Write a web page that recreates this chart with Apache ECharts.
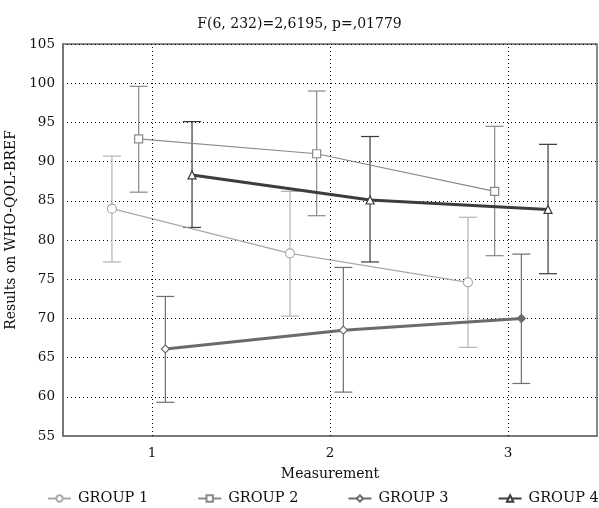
<!DOCTYPE html>
<html>
<head>
<meta charset="utf-8">
<script src="https://cdn.jsdelivr.net/npm/echarts@6/dist/echarts.min.js"></script>
<style>
  html, body { margin: 0; padding: 0; background: #fff; }
  #chart { width: 599px; height: 508px; }
</style>
</head>
<body>
<div id="chart"></div>
<script>
// measurements and the horizontal offset of each group around them
const measurements = [1, 2, 3];
const offsets = [-0.225, -0.075, 0.075, 0.225];
const groupNames = ['GROUP 1', 'GROUP 2', 'GROUP 3', 'GROUP 4'];
const yTicks = [55, 105, 5];

// means and error bar ends
const g1Mean = [84.0, 78.3, 74.6];
const g1Low  = [77.2, 70.3, 66.3];
const g1High = [90.7, 86.2, 82.9];

const g2Mean = [92.9, 91.0, 86.2];
const g2Low  = [86.1, 83.1, 78.0];
const g2High = [99.6, 99.0, 94.5];

const g3Mean = [66.1, 68.5, 70.0];
const g3Low  = [59.3, 60.6, 61.7];
const g3High = [72.8, 76.5, 78.2];

const g4Mean = [88.3, 85.1, 83.9];
const g4Low  = [81.6, 77.2, 75.7];
const g4High = [95.1, 93.2, 92.2];

const FONT = 'DejaVu Serif';

const groups = [
  { mean: g1Mean, low: g1Low, high: g1High, color: '#a9a9a9', bar: '#b3b3b3', width: 1.2, symbol: 'circle', size: 9 },
  { mean: g2Mean, low: g2Low, high: g2High, color: '#8a8a8a', bar: '#8a8a8a', width: 1.2, symbol: 'rect', size: 8 },
  { mean: g3Mean, low: g3Low, high: g3High, color: '#6b6b6b', bar: '#707070', width: 3, symbol: 'diamond', size: 8 },
  { mean: g4Mean, low: g4Low, high: g4High, color: '#3d3d3d', bar: '#3a3a3a', width: 3, symbol: 'triangle', size: 8 }
];

function errorBarItem(color) {
  return function (params, api) {
    const x = api.value(0);
    const lo = api.coord([x, api.value(1)]);
    const hi = api.coord([x, api.value(2)]);
    const half = 9;
    const style = { stroke: color, lineWidth: 1.2 };
    return {
      type: 'group',
      children: [
        { type: 'line', shape: { x1: hi[0], y1: hi[1], x2: lo[0], y2: lo[1] }, style: style },
        { type: 'line', shape: { x1: hi[0] - half, y1: hi[1], x2: hi[0] + half, y2: hi[1] }, style: style },
        { type: 'line', shape: { x1: lo[0] - half, y1: lo[1], x2: lo[0] + half, y2: lo[1] }, style: style }
      ]
    };
  };
}

const series = [];

groups.forEach(function (g, i) {
  series.push({
    type: 'custom',
    name: 'err' + i,
    z: 2,
    silent: true,
    renderItem: errorBarItem(g.bar),
    data: measurements.map((m, k) => [m + offsets[i], g.low[k], g.high[k]])
  });
});

groups.forEach(function (g, i) {
  series.push({
    type: 'line',
    name: groupNames[i],
    z: 3 + i,
    symbol: g.symbol,
    symbolSize: g.size,
    showAllSymbol: true,
    lineStyle: { color: g.color, width: g.width },
    itemStyle: { color: '#fff', borderColor: g.color, borderWidth: 1.2 },
    data: measurements.map(function (m, k) {
      const pt = { value: [m + offsets[i], g.mean[k]] };
      // last diamond is drawn filled in the original
      if (i === 2 && k === 2) pt.itemStyle = { color: g.color };
      return pt;
    }),
    markLine: i === 0 ? {
      silent: true,
      symbol: 'none',
      label: { show: false },
      lineStyle: { color: '#000', width: 1, type: [1, 3] },
      data: measurements.map(m => ({ xAxis: m }))
    } : undefined
  });
});

const chart = echarts.init(document.getElementById('chart'));

chart.setOption({
  animation: false,
  backgroundColor: '#fff',
  textStyle: { fontFamily: FONT },
  title: {
    text: 'F(6, 232)=2,6195, p=,01779',
    left: 'center',
    top: 12,
    textStyle: { fontFamily: FONT, fontSize: 14, fontWeight: 'normal', color: '#111' }
  },
  grid: {
    left: 63, right: 2, top: 44, bottom: 72,
    outerBoundsMode: 'none',
    containLabel: false,
    show: true,
    borderColor: '#666',
    borderWidth: 1.5
  },
  legend: {
    data: groupNames,
    top: 491,
    left: 47,
    width: 560,
    padding: 0,
    itemGap: 49,
    itemWidth: 23,
    itemHeight: 8,
    textStyle: { fontFamily: FONT, fontSize: 14.5, color: '#111', padding: [0, 0, 0, 2] }
  },
  xAxis: {
    type: 'value',
    min: 0.5,
    max: 3.5,
    interval: 0.5,
    name: 'Measurement',
    nameLocation: 'middle',
    nameGap: 31,
    nameTextStyle: { fontFamily: FONT, fontSize: 14, color: '#111' },
    axisLine: { lineStyle: { color: '#777', width: 2 } },
    axisTick: { show: false },
    splitLine: { show: false },
    axisLabel: {
      margin: 10,
      fontFamily: FONT, fontSize: 13.5, color: '#111',
      formatter: v => (Number.isInteger(v) && measurements.includes(v)) ? String(v) : ''
    }
  },
  yAxis: {
    type: 'value',
    min: yTicks[0],
    max: yTicks[1],
    interval: yTicks[2],
    name: 'Results on WHO-QOL-BREF',
    nameLocation: 'middle',
    nameGap: 34,
    nameTextStyle: { fontFamily: FONT, fontSize: 14, color: '#111', padding: [0, 0, 0, 20] },
    axisLine: { show: true, lineStyle: { color: '#777', width: 2 } },
    axisTick: { show: false },
    axisLabel: { margin: 8, fontFamily: FONT, fontSize: 13.5, color: '#111' },
    splitLine: { show: true, lineStyle: { color: '#000', width: 1, type: [1, 3] } }
  },
  series: series
});
</script>
</body>
</html>
